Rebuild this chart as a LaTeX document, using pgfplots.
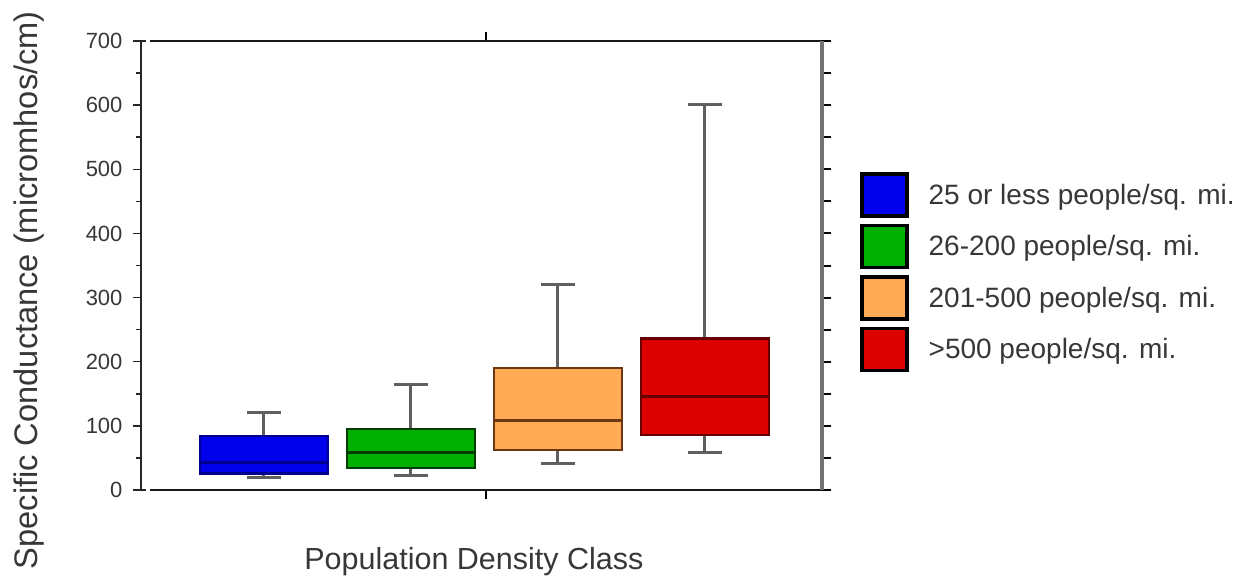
\documentclass[border=0pt]{standalone}
\usepackage{fontspec}
\setmainfont{Liberation Sans}
\usepackage{pgfplots}
\pgfplotsset{compat=1.18}

\definecolor{bluefill}{RGB}{0,0,235}
\definecolor{blueedge}{RGB}{0,0,140}
\definecolor{greenfill}{RGB}{0,175,0}
\definecolor{greenedge}{RGB}{0,60,0}
\definecolor{orangefill}{RGB}{255,170,85}
\definecolor{orangeedge}{RGB}{110,55,20}
\definecolor{redfill}{RGB}{220,0,0}
\definecolor{rededge}{RGB}{100,0,0}
\definecolor{whisk}{RGB}{95,95,95}
\definecolor{txt}{RGB}{55,55,55}

% one box: position, lower whisker, lower quartile, median, upper quartile, upper whisker
% drawn from the five numbers with plain \addplot coordinates
\newcommand{\boxat}[8]{%
  \pgfmathsetmacro{\bxL}{#1-0.4355}\pgfmathsetmacro{\bxR}{#1+0.4355}%
  \pgfmathsetmacro{\capL}{#1-0.115}\pgfmathsetmacro{\capR}{#1+0.115}%
  \edef\tmpbox{\noexpand\addplot[draw=whisk, line width=3pt, forget plot]
    coordinates {(#1,#2) (#1,#3)};
    \noexpand\addplot[draw=whisk, line width=3pt, forget plot]
    coordinates {(#1,#5) (#1,#6)};
    \noexpand\addplot[draw=whisk, line width=3pt, forget plot]
    coordinates {(\capL,#2) (\capR,#2)};
    \noexpand\addplot[draw=whisk, line width=3pt, forget plot]
    coordinates {(\capL,#6) (\capR,#6)};
    \noexpand\addplot[draw=#7, fill=#8, line width=2.5pt, forget plot]
    coordinates {(\bxL,#3) (\bxR,#3) (\bxR,#5) (\bxL,#5)} -- cycle;
    \noexpand\addplot[draw=#7, line width=3pt, forget plot]
    coordinates {(\bxL,#4) (\bxR,#4)};}%
  \tmpbox}

\begin{document}
\begin{tikzpicture}
\useasboundingbox (0pt,0pt) rectangle (1248pt,579pt);

% left y axis, set a little apart from the frame
\begin{axis}[
    at={(141pt,89pt)}, anchor=south west,
    scale only axis, width=672pt, height=449pt,
    xmin=0, xmax=1, ymin=0, ymax=700,
    axis x line=none, axis y line=left,
    y axis line style={-, line width=2pt, color=black!85},
    ytick={0,100,...,700}, minor y tick num=1,
    tick align=outside, major tick length=8pt, minor tick length=5pt,
    every tick/.style={line width=1.5pt, color=black!85},
    extra y ticks={0,700}, extra y tick labels={},
    extra y tick style={tick align=inside, major tick length=5pt},
    /pgf/number format/assume math mode=true,
    yticklabel style={font=\fontsize{22}{24}\selectfont, text=txt, xshift=-7pt},
]
\end{axis}

\begin{axis}[
    at={(150pt,89pt)}, anchor=south west,
    scale only axis, width=672pt, height=449pt,
    xmin=0.2245, xmax=4.796, ymin=0, ymax=700,
    axis x line=box, axis y line=right,
    x axis line style={-, line width=2.5pt, color=black!90},
    y axis line style={-, line width=3.5pt, color=black!55},
    xtick={2.51}, xticklabels={},
    ytick={0,50,...,700}, yticklabels={},
    tick align=outside, major tick length=9pt,
    every tick/.style={line width=2pt, color=black},
    xlabel={Population Density Class},
    ylabel={Specific Conductance (micromhos/cm)},
    xlabel style={at={(axis description cs:0.482,-0.178)}, anchor=base,
        font=\fontsize{30.5}{33}\selectfont, text=txt},
    ylabel style={at={(axis description cs:-0.168,0.445)}, anchor=base,
        font=\fontsize{32.6}{35}\selectfont, text=txt},
    legend style={at={(axis description cs:1.0565,0.708)}, anchor=north west,
        draw=none, fill=none, inner sep=0pt, row sep=6pt,
        font=\fontsize{28}{30}\selectfont, text=txt,
        nodes={inner sep=0pt},
        /tikz/every odd column/.style={column sep=20pt}},
    legend cell align=left,
    legend image code/.code={\draw[#1, line width=3.5pt] (0pt,-21pt) rectangle (45pt,21pt);},
]
\boxat{1}{20}{26}{43}{84}{121}{blueedge}{bluefill}
\boxat{2}{23}{34}{58}{95}{164}{greenedge}{greenfill}
\boxat{3}{42}{62}{108}{190}{320}{orangeedge}{orangefill}
\boxat{4}{59}{86}{145}{236}{601}{rededge}{redfill}

\addlegendimage{draw=black, fill=bluefill}
\addlegendentry{25 or less people/sq. mi.}
\addlegendimage{draw=black, fill=greenfill}
\addlegendentry{26-200 people/sq. mi.}
\addlegendimage{draw=black, fill=orangefill}
\addlegendentry{201-500 people/sq. mi.}
\addlegendimage{draw=black, fill=redfill}
\addlegendentry{>500 people/sq. mi.}
\end{axis}
\end{tikzpicture}
\end{document}
